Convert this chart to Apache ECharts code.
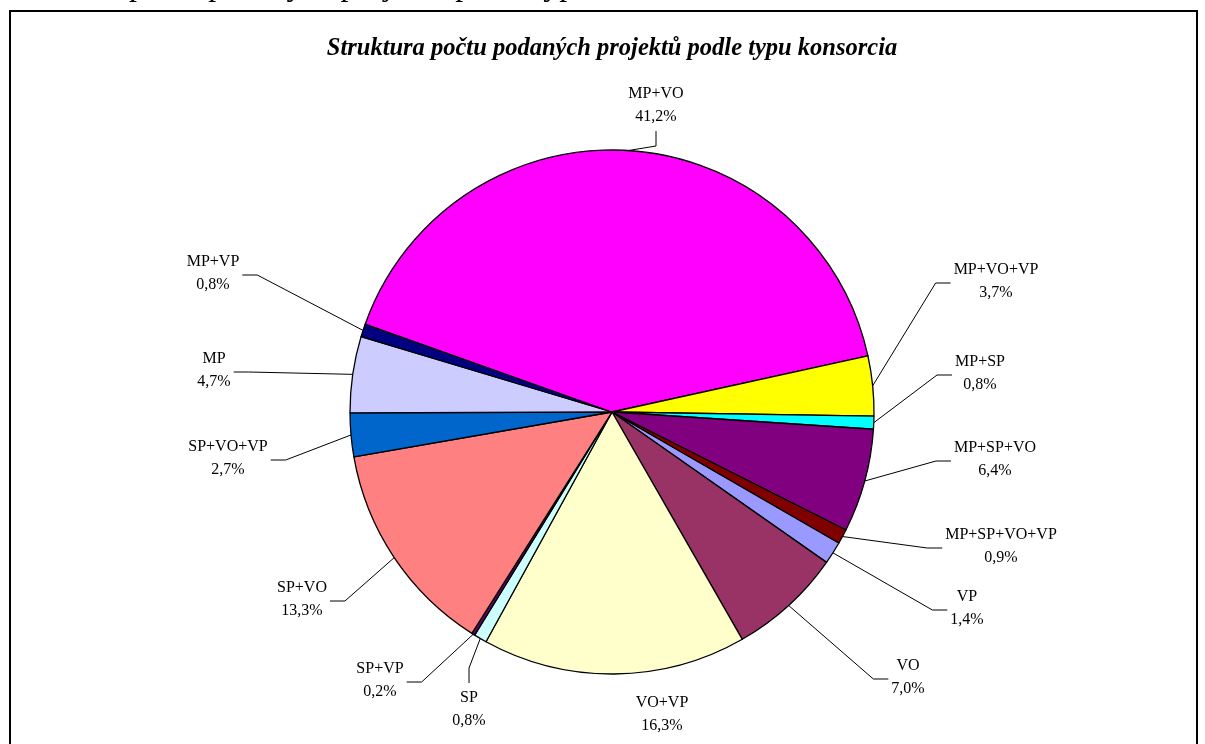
<!DOCTYPE html>
<html>
<head>
<meta charset="utf-8">
<title>Struktura počtu podaných projektů podle typu konsorcia</title>
<script src="https://cdn.jsdelivr.net/npm/echarts@6.0.0/dist/echarts.min.js"></script>
<style>
  html, body { margin: 0; padding: 0; background: #ffffff; }
  #chart { width: 1205px; height: 744px; }
</style>
</head>
<body>
<div id="chart"></div>
<script>
// Data (order as in the source sheet, drawn clockwise)
const categories = ['VP', 'VO', 'VO+VP', 'SP', 'SP+VP', 'SP+VO', 'SP+VO+VP', 'MP', 'MP+VP', 'MP+VO', 'MP+VO+VP', 'MP+SP', 'MP+SP+VO', 'MP+SP+VO+VP'];
const shares = [1.4, 7.0, 16.3, 0.8, 0.2, 13.3, 2.7, 4.7, 0.8, 41.2, 3.7, 0.8, 6.4, 0.9];

// Excel default pie palette
const sliceColors = ['#9999FF', '#993366', '#FFFFCC', '#CCFFFF', '#660066', '#FF8080', '#0066CC', '#CCCCFF', '#000080', '#FF00FF', '#FFFF00', '#00FFFF', '#800080', '#800000'];

// Where each label sits (centre of text block) and which side the leader line leaves from
const labelCenters = [
  [967, 608], [908, 677], [662, 714], [469, 709], [380, 680], [302, 599], [228, 458],
  [214, 370], [213, 273], [656, 105], [996, 281], [980, 373], [995, 459], [1001, 546]
];
const labelSides = ['left', 'left', 'none', 'top', 'right', 'right', 'right', 'right', 'right', 'bottom', 'left', 'left', 'left', 'left'];

const serif = '"Liberation Serif", "Times New Roman", serif';

const chart = echarts.init(document.getElementById('chart'), null, { renderer: 'canvas' });

const pieData = categories.map((name, i) => ({
  name: name,
  value: shares[i],
  itemStyle: { color: sliceColors[i] },
  labelLine: { show: labelSides[i] !== 'none' }
}));

// put the label where Excel had it and draw an elbow line to the slice's arc midpoint
function placeLabel(params) {
  const i = params.dataIndex;
  const cx = labelCenters[i][0];
  const cy = labelCenters[i][1];
  const w = params.labelRect.width;
  const h = params.labelRect.height;
  const gap = 3, seg = 15;
  const out = { x: cx, y: cy, align: 'center', verticalAlign: 'middle' };
  const side = labelSides[i];
  if (side === 'none' || !params.labelLinePoints) return out;
  const anchor = params.labelLinePoints[0];
  let p1, p2;
  if (side === 'left') {
    p2 = [cx - w / 2 - gap, cy + 2];
    p1 = [p2[0] - seg, cy + 2];
  } else if (side === 'right') {
    p2 = [cx + w / 2 + gap, cy + 2];
    p1 = [p2[0] + seg, cy + 2];
  } else if (side === 'top') {
    p2 = [cx, cy - h / 2 - gap];
    p1 = [cx, p2[1] - seg];
  } else {
    p2 = [cx, cy + h / 2 + gap];
    p1 = [cx, p2[1] + seg];
  }
  out.labelLinePoints = [anchor, p1, p2];
  return out;
}

const option = {
  backgroundColor: '#ffffff',
  animation: false,
  graphic: [
    {
      // chart frame (bottom edge runs off the page)
      type: 'rect',
      shape: { x: 10, y: 11, width: 1187, height: 800 },
      style: { fill: 'none', stroke: '#000000', lineWidth: 2 }
    },
    {
      // caption above the frame, only its descenders are visible
      type: 'text',
      x: 2,
      y: 3,
      style: {
        text: 'Struktura počtu podaných projektů podle typu konsorcia',
        font: '32px ' + serif,
        fill: '#000000',
        textAlign: 'left',
        textVerticalAlign: 'bottom'
      }
    },
    {
      type: 'text',
      x: 612,
      y: 49,
      style: {
        text: 'Struktura počtu podaných projektů podle typu konsorcia',
        font: 'italic bold 24.5px ' + serif,
        fill: '#000000',
        textAlign: 'center',
        textVerticalAlign: 'middle'
      }
    }
  ],
  series: [
    {
      name: 'Typ konsorcia',
      type: 'pie',
      center: [612, 412],
      radius: 262,
      startAngle: -30,
      clockwise: true,
      avoidLabelOverlap: false,
      data: pieData,
      itemStyle: {
        borderColor: '#000000',
        borderWidth: 1.3
      },
      label: {
        show: true,
        position: 'outside',
        fontFamily: serif,
        fontSize: 16,
        lineHeight: 23,
        color: '#000000',
        formatter: function (p) {
          return p.name + '\n' + p.value.toFixed(1).replace('.', ',') + '%';
        }
      },
      labelLine: {
        show: true,
        length: 10,
        length2: 10,
        smooth: false,
        lineStyle: { color: '#000000', width: 1 }
      },
      labelLayout: placeLabel,
      emphasis: { disabled: true }
    }
  ]
};

chart.setOption(option);
</script>
</body>
</html>
